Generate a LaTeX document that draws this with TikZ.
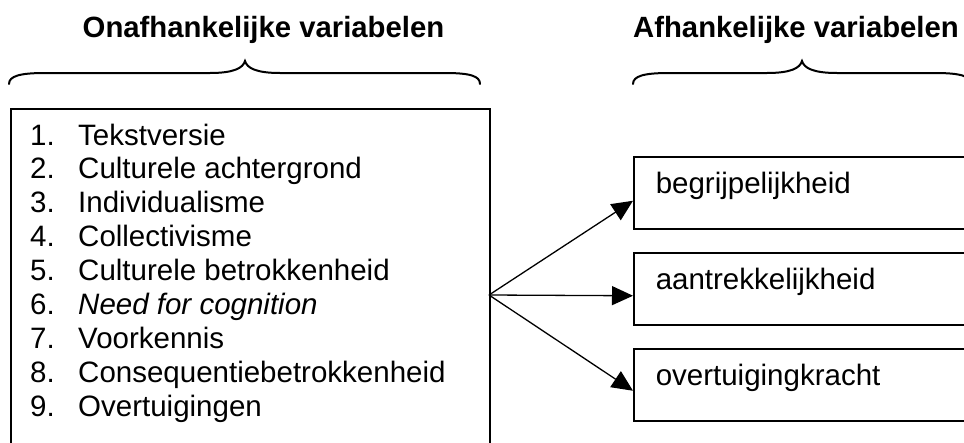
\documentclass[tikz,border=0pt]{standalone}
\usepackage{fontspec}
\setmainfont{Liberation Sans}
\usetikzlibrary{arrows.meta}
\begin{document}
\begin{tikzpicture}[x=1pt,y=-1pt,
  font=\fontsize{29.5}{34}\selectfont,
  frame/.style={draw, line width=1.5pt},
  depbox/.style={frame, anchor=north west, inner xsep=22pt, inner ysep=0pt,
    text height=37pt, text depth=35pt, text width=340pt, align=left},
  arr/.style={-{Triangle[length=21pt,width=19pt]}, line width=1.3pt},
  brace/.style={line width=2pt, line cap=round},
  title/.style={font=\fontsize{29.3}{34}\selectfont\bfseries, anchor=base, inner sep=0pt},
  item/.style={anchor=base west, inner sep=0pt}]
\useasboundingbox (0,0) rectangle (964,442);
% titles
\node[title] (t1) at (263.5,37) {Onafhankelijke variabelen};
\node[title] (t2) at (796,37) {Afhankelijke variabelen};
% braces
\draw[brace] (9,84) .. controls (9,76) and (20,73) .. (45,73) -- (210,73)
  .. controls (234,73) and (243,68) .. (245,61)
  .. controls (247,68) and (256,73) .. (280,73) -- (445,73)
  .. controls (470,73) and (480,76) .. (480,84);
\draw[brace] (633,84) .. controls (633,76) and (644,73) .. (669,73) -- (767,73)
  .. controls (791,73) and (800,68) .. (802,61)
  .. controls (804,68) and (813,73) .. (837,73) -- (935,73)
  .. controls (960,73) and (971,76) .. (971,84);
% left box
\node[frame, anchor=north west, minimum width=479pt, minimum height=360pt, inner sep=0pt] (ind) at (10,108) {};
\foreach \n/\t [count=\i] in {1/Tekstversie, 2/Culturele achtergrond, 3/Individualisme,
  4/Collectivisme, 5/Culturele betrokkenheid, 6/{\itshape Need for cognition},
  7/Voorkennis, 8/Consequentiebetrokkenheid, 9/Overtuigingen} {
  \node[item] (n\i) at (30,{145+(\i-1)*33.9}) {\n.};
  \node[item] (i\i) at (78,{145+(\i-1)*33.9}) {\t};
}
% right boxes
\node[depbox] (d1) at (633,156) {begrijpelijkheid};
\node[depbox] (d2) at (633,252) {aantrekkelijkheid};
\node[depbox] (d3) at (633,348) {overtuigingkracht};
% arrows
\coordinate (src) at (489,295);
\draw[arr] (src) -- ([yshift=-8pt]d1.west);
\draw[arr] (src) -- ([yshift=-7pt]d2.west);
\draw[arr] (src) -- ([yshift=-6pt]d3.west);
\end{tikzpicture}
\end{document}
